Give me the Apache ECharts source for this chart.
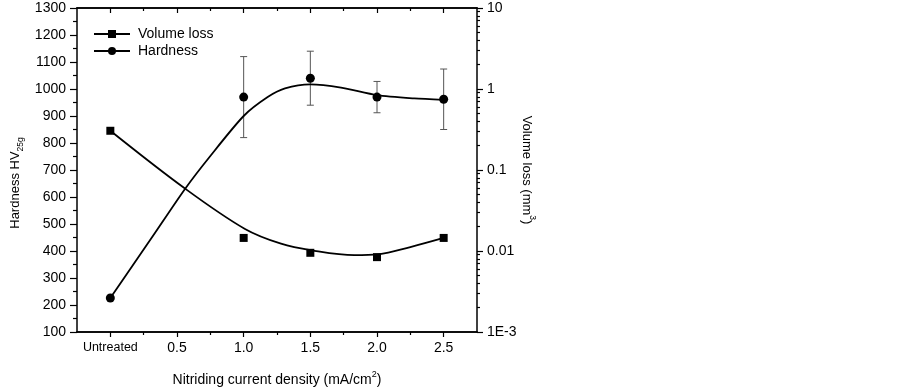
<!DOCTYPE html>
<html>
<head>
<meta charset="utf-8">
<script src="https://cdn.jsdelivr.net/npm/echarts@6/dist/echarts.min.js"></script>
<style>
  html, body { margin: 0; padding: 0; background: #fff; }
  #chart { width: 903px; height: 392px; }
</style>
</head>
<body>
<div id="chart"></div>
<script>
// categories on the x axis (0 = untreated)
const currentDensity = [0, 1.0, 1.5, 2.0, 2.5]
const xTickValues = [0, 0.5, 1.0, 1.5, 2.0, 2.5]
const xMinorTicks = [0.25, 0.75, 1.25, 1.75, 2.25]

// measured points
const hardness = [226, 970, 1040, 970, 962]
const hardnessErr = [0, 150, 100, 58, 112]
const volumeLoss = [0.305, 0.0145, 0.0095, 0.0084, 0.0145]

// fitted curves
const hardFitX = [0, 0.31, 0.56, 0.75, 1.0, 1.18, 1.31, 1.5, 1.73, 2.0, 2.28, 2.5]
const hardFitY = [226, 449, 630, 752, 900, 970, 1002, 1017, 1005, 977, 965, 960]
const volFitX = [0, 0.56, 1.01, 1.28, 1.51, 1.83, 2.01, 2.25, 2.5]
const volFitY = [0.305, 0.059, 0.0187, 0.0123, 0.0102, 0.0089, 0.0091, 0.0112, 0.0145]

// log axis minor positions (in decades)
const logMinor = []
for (let d = -3; d < 1; d++) {
  for (let k = 2; k <= 9; k++) logMinor.push(d + Math.log10(k))
}

const font = 'Liberation Sans, Arial, sans-serif'
const pair = (xs, ys) => xs.map((x, i) => [x, ys[i]])

const chart = echarts.init(document.getElementById('chart'))

const xBase = {
  type: 'value', min: -0.25, max: 2.75,
  splitLine: {show: false},
  axisLine: {onZero: false, lineStyle: {color: '#000', width: 1.5}}
}

const option = {
  animation: false,
  grid: {left: 77, right: 426, top: 8, bottom: 57},
  legend: {
    orient: 'vertical', left: 88, top: 22,
    itemWidth: 36, itemHeight: 10, itemGap: 3,
    data: ['Volume loss', 'Hardness'],
    textStyle: {fontFamily: font, fontSize: 14, color: '#000', padding: [0, 0, 0, 3]}
  },
  xAxis: [
    Object.assign({}, xBase, {
      position: 'bottom',
      axisTick: {length: 5, customValues: xTickValues, lineStyle: {color: '#000', width: 1.2}},
      axisLabel: {
        customValues: xTickValues, margin: 9, color: '#000', fontFamily: font, fontSize: 14,
        formatter: v => v === 0 ? '{u|Untreated}' : v.toFixed(1),
        rich: {u: {fontFamily: font, fontSize: 12.5, color: '#000'}}
      },
      name: '{a|Nitriding current density (mA/cm}{s|2}{a|)}',
      nameLocation: 'middle', nameGap: 38,
      nameTextStyle: {
        rich: {
          a: {fontFamily: font, fontSize: 14, color: '#000', lineHeight: 20},
          s: {fontFamily: font, fontSize: 9, color: '#000', lineHeight: 9, verticalAlign: 'top'}
        }
      }
    }),
    Object.assign({}, xBase, {
      position: 'bottom',
      axisTick: {length: 3, customValues: xMinorTicks, lineStyle: {color: '#000', width: 1.2}},
      axisLabel: {show: false}
    }),
    Object.assign({}, xBase, {
      position: 'top',
      axisTick: {inside: true, length: 5, customValues: xTickValues, lineStyle: {color: '#000', width: 1.2}},
      axisLabel: {show: false}
    }),
    Object.assign({}, xBase, {
      position: 'top',
      axisTick: {inside: true, length: 3, customValues: xMinorTicks, lineStyle: {color: '#000', width: 1.2}},
      axisLabel: {show: false}
    })
  ],
  yAxis: [
    {
      type: 'value', min: 100, max: 1300, interval: 100, position: 'left',
      splitLine: {show: false},
      axisLine: {show: true, onZero: false, lineStyle: {color: '#000', width: 1.5}},
      axisTick: {show: true, length: 7, lineStyle: {color: '#000', width: 1.2}},
      minorTick: {show: true, splitNumber: 2, length: 4, lineStyle: {color: '#000', width: 1.2}},
      axisLabel: {margin: 11, color: '#000', fontFamily: font, fontSize: 14, formatter: v => String(v)},
      name: '{a|Hardness HV}{s|25g}',
      nameLocation: 'middle', nameGap: 52,
      nameTextStyle: {
        padding: [0, 26, 0, 0],
        rich: {
          a: {fontFamily: font, fontSize: 13, color: '#000', lineHeight: 20},
          s: {fontFamily: font, fontSize: 8.5, color: '#000', lineHeight: 9, verticalAlign: 'bottom'}
        }
      }
    },
    {
      type: 'log', min: 0.001, max: 10, logBase: 10, position: 'right',
      splitLine: {show: false},
      axisLine: {show: true, onZero: false, lineStyle: {color: '#000', width: 1.5}},
      axisTick: {show: true, length: 6, lineStyle: {color: '#000', width: 1.2}},
      axisLabel: {
        margin: 10, color: '#000', fontFamily: font, fontSize: 14,
        formatter: v => v < 0.005 ? '1E-3' : String(+v.toPrecision(3))
      },
      name: '{a|Volume loss (mm}{s|3}{a|)}',
      nameLocation: 'middle', nameGap: 30, nameRotate: -90,
      nameTextStyle: {
        rich: {
          a: {fontFamily: font, fontSize: 13, color: '#000', lineHeight: 20},
          s: {fontFamily: font, fontSize: 8.5, color: '#000', lineHeight: 9, verticalAlign: 'top'}
        }
      }
    },
    {
      // minor log ticks drawn on a linear copy of the decade range
      type: 'value', min: -3, max: 1, position: 'right',
      splitLine: {show: false},
      axisLine: {show: false, onZero: false},
      axisTick: {show: true, length: 3, customValues: logMinor, lineStyle: {color: '#000', width: 1.2}},
      axisLabel: {show: false}
    }
  ],
  series: [
    {
      name: 'Volume loss', type: 'line', xAxisIndex: 0, yAxisIndex: 1,
      data: pair(volFitX, volFitY), smooth: 0.35,
      symbol: 'rect', symbolSize: 8, showSymbol: false,
      itemStyle: {color: '#000'},
      lineStyle: {color: '#000', width: 1.8}
    },
    {
      name: 'Hardness', type: 'line', xAxisIndex: 0, yAxisIndex: 0,
      data: pair(hardFitX, hardFitY), smooth: 0.25,
      symbol: 'circle', symbolSize: 9, showSymbol: false,
      itemStyle: {color: '#000'},
      lineStyle: {color: '#000', width: 1.8}
    },
    {
      name: 'hardErr', type: 'custom', xAxisIndex: 0, yAxisIndex: 0, z: 3,
      data: currentDensity.map((x, i) => [x, hardness[i] - hardnessErr[i], hardness[i] + hardnessErr[i]])
        .filter((d, i) => hardnessErr[i] > 0),
      encode: {x: 0, y: [1, 2]},
      renderItem: (params, api) => {
        const lo = api.coord([api.value(0), api.value(1)])
        const hi = api.coord([api.value(0), api.value(2)])
        const w = 3.5
        const style = {stroke: '#555', lineWidth: 1}
        return {
          type: 'group',
          children: [
            {type: 'line', shape: {x1: lo[0], y1: lo[1], x2: hi[0], y2: hi[1]}, style},
            {type: 'line', shape: {x1: lo[0] - w, y1: lo[1], x2: lo[0] + w, y2: lo[1]}, style},
            {type: 'line', shape: {x1: hi[0] - w, y1: hi[1], x2: hi[0] + w, y2: hi[1]}, style}
          ]
        }
      }
    },
    {
      name: 'volPts', type: 'scatter', xAxisIndex: 0, yAxisIndex: 1, z: 4,
      data: pair(currentDensity, volumeLoss),
      symbol: 'rect', symbolSize: 8, itemStyle: {color: '#000', opacity: 1}
    },
    {
      name: 'hardPts', type: 'scatter', xAxisIndex: 0, yAxisIndex: 0, z: 4,
      data: pair(currentDensity, hardness),
      symbol: 'circle', symbolSize: 9, itemStyle: {color: '#000', opacity: 1}
    }
  ]
}

chart.setOption(option)
</script>
</body>
</html>
